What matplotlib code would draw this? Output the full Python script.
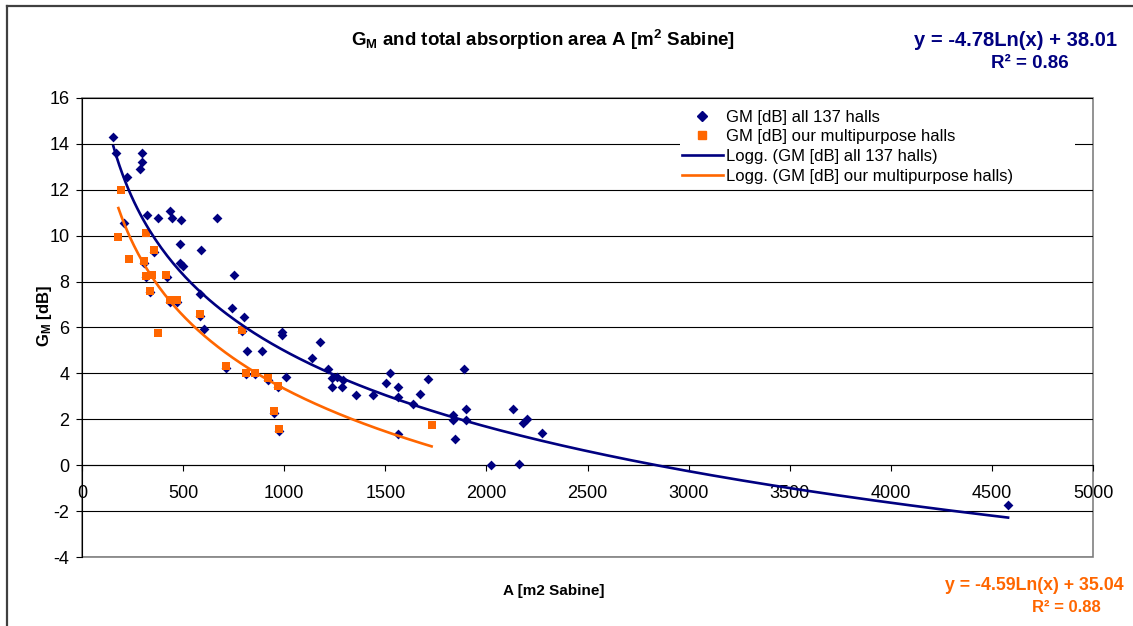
import numpy as np
import matplotlib.pyplot as plt
from matplotlib.lines import Line2D
from matplotlib.patches import Rectangle

plt.rcParams['font.family'] = ['Liberation Sans', 'DejaVu Sans']
plt.rcParams['mathtext.fontset'] = 'custom'
plt.rcParams['mathtext.rm'] = 'Liberation Sans'
plt.rcParams['mathtext.bf'] = 'Liberation Sans:bold'
plt.rcParams['axes.unicode_minus'] = False

# our multipurpose halls
ours_a = [180, 193, 234, 305, 316, 317, 336, 348, 356, 374, 415, 435, 468,
          585, 712, 790, 811, 856, 922, 951, 971, 974, 1729]
ours_g = [9.93, 12.01, 9.0, 8.89, 8.24, 10.12, 7.6, 8.28, 9.37, 5.78, 8.28, 7.19, 7.19,
          6.58, 4.31, 5.91, 4.02, 4.02, 3.78, 2.35, 3.46, 1.57, 1.77]

# all 137 halls
all_a = [155, 167, 295, 295, 287, 221, 320, 377, 435, 443, 490, 666, 209, 485, 588,
         485, 501, 753, 584, 743, 801, 605, 988, 991, 815, 892, 1009, 1177, 1136,
         1215, 1235, 1260, 1292, 1235, 1284, 1355, 1441, 1523, 1503, 1564, 1564,
         1635, 1672, 1713, 1889, 1833, 1833, 1899, 1899, 1845, 1564, 2133, 2183,
         2199, 2021, 2163, 2277, 4580,
         305, 316, 419, 336, 435, 468, 356, 585, 790, 712, 811, 856, 922, 971, 951, 974]
all_g = [14.28, 13.62, 13.62, 13.22, 12.9, 12.56, 10.89, 10.75, 11.07, 10.75, 10.68,
         10.75, 10.57, 9.62, 9.37, 8.83, 8.68, 8.28, 7.45, 6.83, 6.46, 5.93, 5.81,
         5.66, 4.97, 4.97, 3.85, 5.37, 4.65, 4.17, 3.78, 3.85, 3.73, 3.41, 3.39,
         3.08, 3.08, 4.0, 3.56, 3.39, 2.95, 2.66, 3.12, 3.75, 4.17, 2.18, 1.99,
         2.44, 1.96, 1.16, 1.35, 2.47, 1.84, 2.03, 0.0, 0.05, 1.42, -1.75,
         8.83, 8.18, 8.22, 7.54, 7.13, 7.13, 9.31, 6.52, 5.85, 4.25, 3.96, 3.96,
         3.72, 3.40, 2.29, 1.51]

# Excel log trendlines y = a*ln(x) + b
fit_all = (-4.78, 38.01, 0.86)
fit_ours = (-4.59, 35.04, 0.88)

navy = '#000080'
orange = '#FF6600'

fig = plt.figure(figsize=(11.33, 6.26), dpi=100)
ax = fig.add_axes([82 / 1133, 1 - 557 / 626, (1093 - 82) / 1133, 459 / 626])

ax.set_xlim(0, 5000)
ax.set_ylim(-4, 16)
ax.set_xticks(np.arange(0, 5001, 500))
ax.set_yticks(np.arange(-4, 17, 2))
ax.yaxis.grid(True, color='black', linewidth=0.8)
ax.set_axisbelow(True)

ax.patch.set_edgecolor('#808080')
ax.patch.set_linewidth(1.2)
ax.spines['top'].set_visible(False)
ax.spines['right'].set_visible(False)
ax.spines['left'].set_color('black')
ax.spines['bottom'].set_color('black')
ax.spines['bottom'].set_position(('data', 0))
ax.tick_params(axis='x', direction='out', length=4.5, width=0.8, pad=10, labelsize=13)
ax.tick_params(axis='y', direction='out', length=4, width=0.8, pad=5, labelsize=13)

# white legend area hiding the gridlines
ax.add_patch(Rectangle((680 / 1133, 1 - 187 / 626), 395 / 1133, 86 / 626,
                       transform=fig.transFigure, facecolor='white', edgecolor='none',
                       zorder=2.5))

ax.scatter(all_a, all_g, marker='D', s=5.0 ** 2, color=navy, linewidths=0, zorder=3)
ax.scatter(ours_a, ours_g, marker='s', s=5.8 ** 2, color=orange, linewidths=0, zorder=4)

xa = np.linspace(min(all_a), max(all_a), 300)
ax.plot(xa, fit_all[0] * np.log(xa) + fit_all[1], color=navy, lw=1.9, zorder=5)
xo = np.linspace(min(ours_a), max(ours_a), 300)
ax.plot(xo, fit_ours[0] * np.log(xo) + fit_ours[1], color=orange, lw=1.9, zorder=5)

handles = [
    Line2D([], [], marker='D', ls='none', color=navy, markersize=5),
    Line2D([], [], marker='s', ls='none', color=orange, markersize=5.8),
    Line2D([], [], color=navy, lw=1.9),
    Line2D([], [], color=orange, lw=1.9),
]
labels = ['GM [dB] all 137 halls', 'GM [dB] our multipurpose halls',
          'Logg. (GM [dB] all 137 halls)', 'Logg. (GM [dB] our multipurpose halls)']
leg = fig.legend(handles, labels, loc='upper left', bbox_to_anchor=(680 / 1133, 1 - 108 / 626),
                 fontsize=12, frameon=False, handlelength=2.45, handletextpad=0.2,
                 labelspacing=0.28, borderpad=0.1, borderaxespad=0)
leg.set_zorder(6)

fig.text(543 / 1133, 1 - 40 / 626,
         r'$\mathbf{G_M}$ and total absorption area A [m$^\mathbf{2}$ Sabine]',
         ha='center', va='center', fontsize=13.5, fontweight='bold')
fig.text(554 / 1133, 1 - 591 / 626, 'A [m2 Sabine]', ha='center', va='center',
         fontsize=11, fontweight='bold')
fig.text(45 / 1133, 1 - 316 / 626, r'$\mathbf{G_M}$ [dB]', ha='center', va='center',
         rotation=90, fontsize=12, fontweight='bold')

fig.text(1016 / 1133, 1 - 40 / 626, f'y = {fit_all[0]:.2f}Ln(x) + {fit_all[1]:.2f}',
         ha='center', va='center', fontsize=14.5, fontweight='bold', color=navy)
fig.text(1030 / 1133, 1 - 64 / 626, f'R\u00b2 = {fit_all[2]:.2f}',
         ha='center', va='center', fontsize=13.5, fontweight='bold', color=navy)
fig.text(1034 / 1133, 1 - 585 / 626, f'y = {fit_ours[0]:.2f}Ln(x) + {fit_ours[1]:.2f}',
         ha='center', va='center', fontsize=12.8, fontweight='bold', color=orange)
fig.text(1066 / 1133, 1 - 607 / 626, f'R\u00b2 = {fit_ours[2]:.2f}',
         ha='center', va='center', fontsize=12, fontweight='bold', color=orange)

# chart area border (top and left visible)
fig.add_artist(Line2D([7 / 1133, 7 / 1133], [0, 1 - 6 / 626], transform=fig.transFigure,
                      color='#404040', lw=1.6))
fig.add_artist(Line2D([7 / 1133, 1], [1 - 6 / 626, 1 - 6 / 626], transform=fig.transFigure,
                      color='#404040', lw=1.6))

fig.savefig('out.png', dpi=100)
